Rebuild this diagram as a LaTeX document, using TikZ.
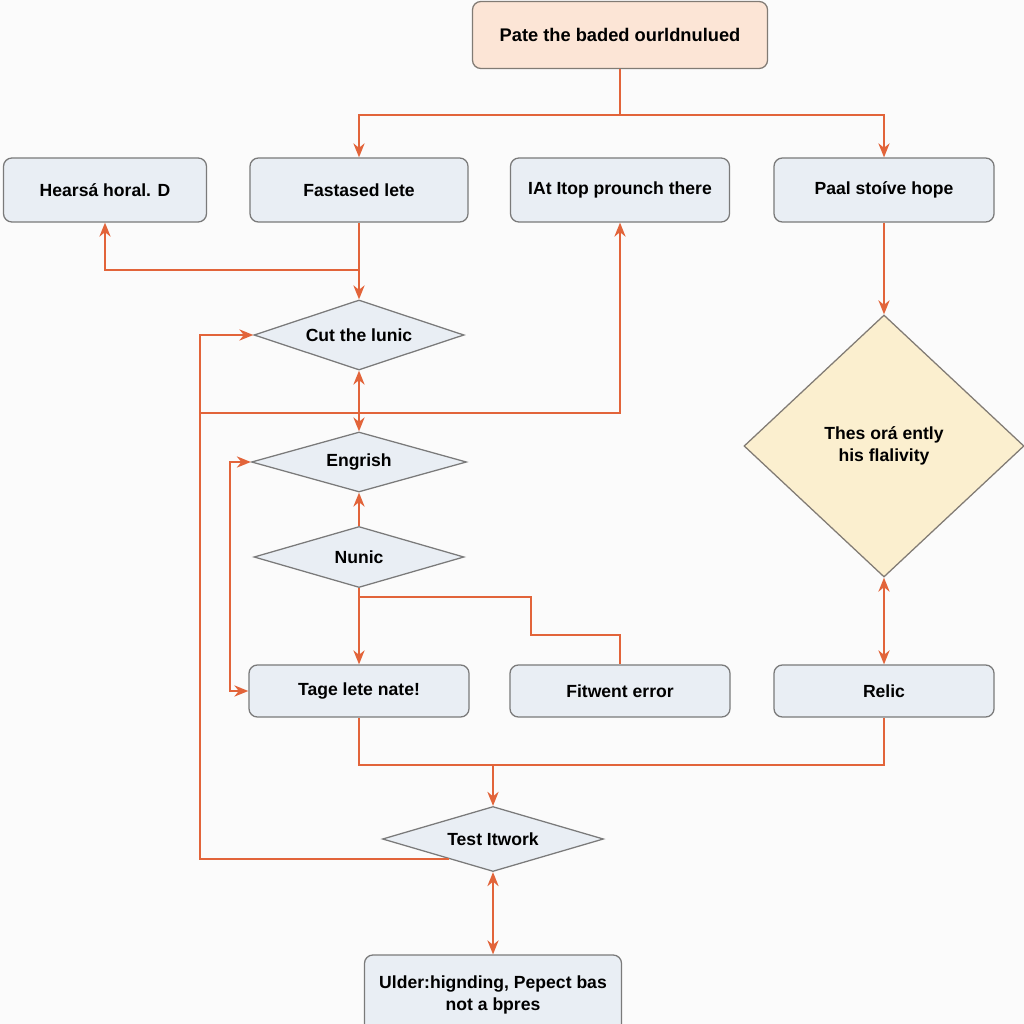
\documentclass[tikz,border=0pt]{standalone}
\usepackage{fontspec}
\setmainfont{Liberation Sans}
\usetikzlibrary{arrows.meta, positioning, shapes.geometric, calc}

\begin{document}
\begin{tikzpicture}[x=0.025cm, y=-0.025cm,
  flow/.style={draw=linecol, line width=1.3pt},
  arr/.style={flow, -{Stealth[length=10pt,width=8pt]}},
  arrtwo/.style={flow, {Stealth[length=10pt,width=8pt]}-{Stealth[length=10pt,width=8pt]}},
  stepbox/.style={draw=edge, fill=boxfill, line width=0.9pt, rounded corners=6pt,
    minimum height=1.6cm, align=center, font=\fontsize{12.5}{16}\selectfont\bfseries},
  choice/.style={diamond, aspect=3, inner sep=0pt, draw=edge, fill=boxfill,
    line width=0.9pt, align=center, font=\fontsize{12.5}{16}\selectfont\bfseries}]
\definecolor{linecol}{RGB}{226,100,58}
\definecolor{edge}{RGB}{122,122,122}
\definecolor{boxfill}{RGB}{233,238,244}
\definecolor{startfill}{RGB}{252,229,214}
\definecolor{bigfill}{RGB}{251,239,207}
\definecolor{bgcol}{RGB}{251,251,251}

\clip (0,0) rectangle (1024,1024);
\fill[bgcol] (0,0) rectangle (1024,1024);

% ---- TOP ----
\node[stepbox, fill=startfill, draw=edge!90!brown, minimum width=7.375cm, minimum height=1.675cm,
  font=\fontsize{13}{16}\selectfont\bfseries] (start) at (620,35) {Pate the baded ourldnulued};

% ---- FIRST ROW ----
\node[stepbox, minimum width=5.075cm] (hears) at (105,190) {Hearsá horal. D};
\node[stepbox, minimum width=5.45cm] (fast) at (359,190) {Fastased lete};
\node[stepbox, minimum width=5.475cm] (itop) at (620,190) {IAt Itop prounch there};
\node[stepbox, minimum width=5.5cm] (paal) at (884,190) {Paal stoíve hope};

% ---- DIAMONDS ----
\node[choice, minimum width=5.25cm, minimum height=1.75cm] (cut) at (359,335) {Cut the lunic};
\node[choice, minimum width=5.375cm, minimum height=1.5cm] (eng) at (359,462) {Engrish};
\node[choice, minimum width=5.25cm, minimum height=1.525cm] (nunic) at (359,557) {Nunic};
\node[choice, aspect=1, fill=bigfill, draw=edge!90!brown, minimum width=7cm, minimum height=6.55cm]
  (thes) at (884,446) {Thes orá ently\\his flalivity};

% ---- THIRD ROW ----
\node[stepbox, minimum width=5.5cm, minimum height=1.3cm] (tage) at (359,691) {Tage lete nate!};
\node[stepbox, minimum width=5.5cm, minimum height=1.3cm] (fit) at (620,691) {Fitwent error};
\node[stepbox, minimum width=5.5cm, minimum height=1.3cm] (relic) at (884,691) {Relic};

% ---- BOTTOM ----
\node[choice, minimum width=5.525cm, minimum height=1.625cm] (test) at (493,839) {Test Itwork};
\node[stepbox, minimum width=6.425cm, minimum height=2cm] (ulder) at (493,995)
  {Ulder:hignding, Pepect bas\\not a bpres};

% junctions
\coordinate (split) at (620,115);
\coordinate (jfast) at (359,270);
\coordinate (railA) at (200,413);
\coordinate (railB) at (230,600);
\coordinate (jnunic) at (359,597);
\coordinate (bus) at (493,765);
\coordinate (tleft) at ($(test.west)!0.6!(test.south)$);

% ---- CONNECTORS ----
\draw[flow] (start) -- (split);
\draw[arr] (split) -| (fast);
\draw[arr] (split) -| (paal);
\draw[arr] (fast) -- (cut);
\draw[arr] (jfast) -| (hears);
\draw[arr] (tleft) -- (tleft -| railA) |- (cut);
\draw[arr] (railA) -| (itop);
\draw[arrtwo] (cut) -- (eng);
\draw[arr] (nunic) -- (eng);
\draw[arr] (nunic) -- (tage);
\draw[flow] (jnunic) -| (531,635) -| (fit);
\draw[arrtwo] (eng.west) -- (eng.west -| railB) |- (tage.west);
\draw[arr] (paal) -- (thes);
\draw[arrtwo] (thes) -- (relic);
\draw[flow] (tage) |- (bus) -| (relic);
\draw[arr] (bus) -- (test);
\draw[arrtwo] (test) -- (ulder);

\end{tikzpicture}
\end{document}
